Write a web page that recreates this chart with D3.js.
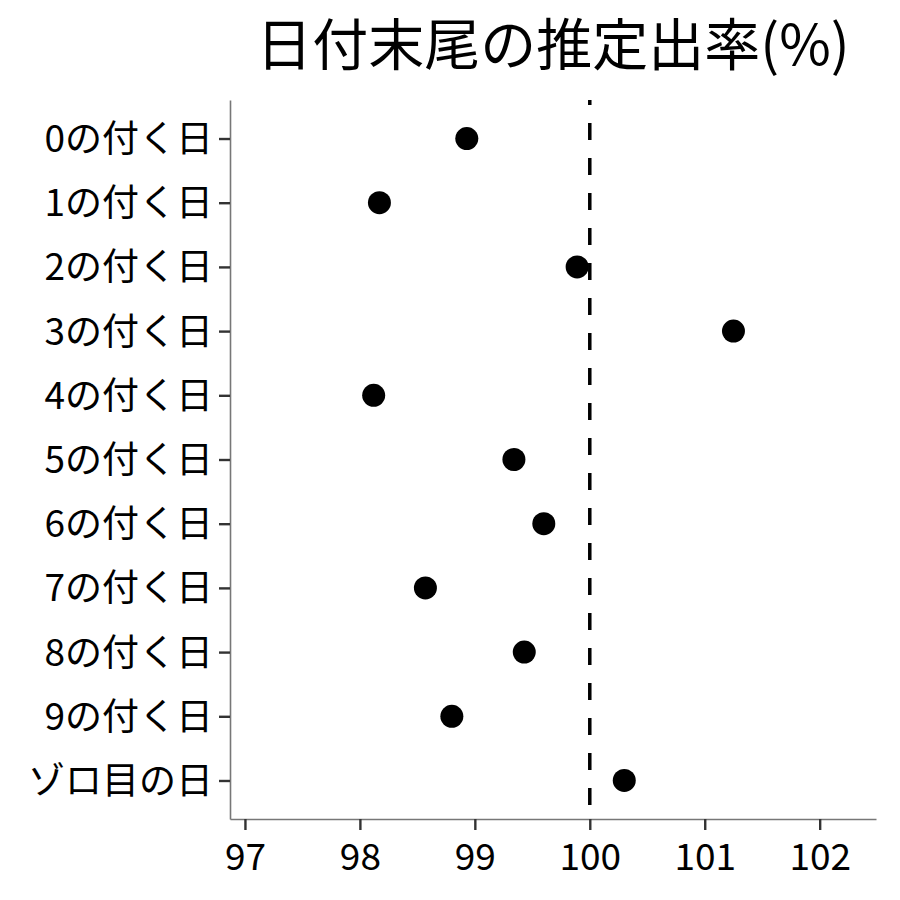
<!DOCTYPE html>
<html>
<head>
<meta charset="utf-8">
<script src="https://cdn.jsdelivr.net/npm/d3@7"></script>
<style>
  body { margin: 0; background: #fff; }
  text { font-family: "Noto Sans CJK JP", "Noto Sans", sans-serif; }
</style>
</head>
<body>
<div id="chart"></div>
<script>
// data
var categories = ["0の付く日", "1の付く日", "2の付く日", "3の付く日", "4の付く日",
    "5の付く日", "6の付く日", "7の付く日", "8の付く日", "9の付く日", "ゾロ目の日"];
var rates = [98.93, 98.17, 99.89, 101.25, 98.12, 99.34, 99.60, 98.57, 99.43, 98.80, 100.30];
var xTicks = [97, 98, 99, 100, 101, 102];
var refValue = 100;

var svgWidth = 900;
var svgHeight = 900;

var margin = { top: 100, right: 24, bottom: 81, left: 230 };
var width = svgWidth - margin.left - margin.right;
var height = svgHeight - margin.top - margin.bottom;

var svg = d3.select("#chart")
    .append("svg")
    .attr("width", svgWidth)
    .attr("height", svgHeight);

var chartGroup = svg.append("g")
    .attr("transform", `translate(${margin.left}, ${margin.top})`);

var xScale = d3.scaleLinear()
    .domain([96.87, 102.49])
    .range([0, width]);

// discrete axis with ggplot-like padding of 0.6 step on each end
var yScale = d3.scalePoint()
    .domain(categories)
    .range([0, height])
    .padding(0.6);

// title
svg.append("text")
    .attr("x", margin.left + width / 2)
    .attr("y", 65)
    .attr("text-anchor", "middle")
    .attr("font-size", "56px")
    .attr("fill", "#000")
    .text("日付末尾の推定出率(%)");

// x axis
var xAxis = chartGroup.append("g")
    .attr("transform", `translate(0, ${height})`)
    .call(d3.axisBottom(xScale).tickValues(xTicks).tickFormat(d3.format("d"))
        .tickSize(11).tickPadding(5).tickSizeOuter(0));

// y axis
var yAxis = chartGroup.append("g")
    .call(d3.axisLeft(yScale).tickSize(11).tickPadding(6).tickSizeOuter(0));

[xAxis, yAxis].forEach(function(ax) {
    ax.select(".domain").attr("stroke", "#777").attr("stroke-width", 1.6);
    ax.selectAll(".tick line").attr("stroke", "#333").attr("stroke-width", 2.4);
    ax.selectAll(".tick text")
        .attr("fill", "#000")
        .attr("font-size", "37px")
        .style("font-family", '"Noto Sans CJK JP", "Noto Sans", sans-serif');
});
xAxis.selectAll(".tick text").attr("dy", "0.95em");
yAxis.selectAll(".tick text").attr("dy", "0.35em");

// reference line at 100
chartGroup.append("line")
    .attr("x1", xScale(refValue))
    .attr("x2", xScale(refValue))
    .attr("y1", 0)
    .attr("y2", height)
    .attr("stroke", "#000")
    .attr("stroke-width", 3.5)
    .attr("stroke-dasharray", "17,18")
    .attr("stroke-dashoffset", 12);

// points
chartGroup.selectAll("circle")
    .data(rates)
    .enter()
    .append("circle")
    .attr("cx", d => xScale(d))
    .attr("cy", (d, i) => yScale(categories[i]))
    .attr("r", 11.5)
    .attr("fill", "#000");
</script>
</body>
</html>
